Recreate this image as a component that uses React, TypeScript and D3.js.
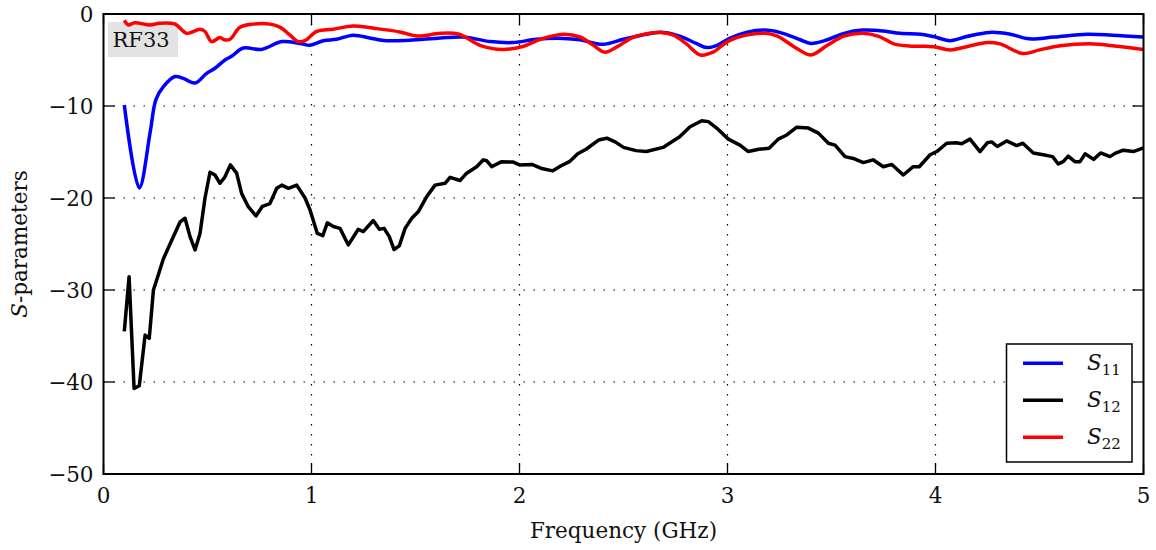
import React, { useEffect, useRef } from 'react';
import * as d3 from 'd3';

// [frequency GHz, dB]
const s11: [number, number][] = [
  [0.10, -9.9], [0.172, -18.9], [0.224, -12.9], [0.252, -9.3], [0.288, -7.9], [0.344, -6.8],
  [0.384, -7.0], [0.44, -7.5], [0.496, -6.45], [0.536, -5.9], [0.584, -5.0], [0.616, -4.6],
  [0.672, -3.7], [0.76, -3.85], [0.857, -3.0], [0.945, -3.2], [0.993, -3.4], [1.057, -2.9],
  [1.12, -2.75], [1.20, -2.3], [1.28, -2.6], [1.36, -2.9], [1.47, -2.85], [1.62, -2.6],
  [1.73, -2.5], [1.86, -3.0], [1.97, -3.1], [2.08, -2.75], [2.21, -2.65], [2.29, -2.8],
  [2.40, -3.3], [2.50, -2.75], [2.61, -2.2], [2.69, -2.0], [2.77, -2.4], [2.85, -3.2],
  [2.90, -3.65], [2.95, -3.4], [3.01, -2.65], [3.09, -2.0], [3.18, -1.75], [3.25, -2.0],
  [3.35, -2.8], [3.40, -3.2], [3.48, -2.8], [3.56, -2.1], [3.65, -1.75], [3.75, -1.85],
  [3.83, -2.1], [3.93, -2.2], [3.99, -2.45], [4.07, -2.9], [4.15, -2.45], [4.26, -2.0],
  [4.36, -2.2], [4.45, -2.7], [4.57, -2.5], [4.73, -2.2], [4.85, -2.3], [5.0, -2.5]
];

const s12: [number, number][] = [
  [0.10, -34.5], [0.123, -28.55], [0.147, -40.7], [0.172, -40.4], [0.20, -34.9], [0.22, -35.25],
  [0.24, -30.0], [0.263, -28.4], [0.288, -26.6], [0.328, -24.6], [0.368, -22.6], [0.392, -22.2],
  [0.416, -24.2], [0.44, -25.65], [0.464, -23.85], [0.488, -20.0], [0.512, -17.2], [0.536, -17.5],
  [0.56, -18.4], [0.584, -17.7], [0.61, -16.4], [0.64, -17.3], [0.664, -19.5], [0.696, -20.95],
  [0.733, -21.95], [0.764, -20.9], [0.80, -20.6], [0.833, -18.95], [0.857, -18.6], [0.889, -18.95],
  [0.929, -18.6], [0.969, -20.0], [0.993, -21.3], [1.028, -23.85], [1.054, -24.1], [1.076, -22.7],
  [1.105, -23.1], [1.137, -23.3], [1.177, -25.1], [1.225, -23.4], [1.249, -23.65], [1.297, -22.45],
  [1.326, -23.4], [1.349, -23.3], [1.374, -24.2], [1.397, -25.6], [1.422, -25.2], [1.45, -23.3],
  [1.482, -22.2], [1.513, -21.5], [1.554, -19.85], [1.594, -18.6], [1.642, -18.4], [1.666, -17.75],
  [1.714, -18.1], [1.746, -17.3], [1.794, -16.6], [1.826, -15.85], [1.842, -15.95], [1.866, -16.6],
  [1.914, -16.05], [1.97, -16.1], [2.0, -16.4], [2.06, -16.35], [2.107, -16.8], [2.16, -17.05],
  [2.20, -16.5], [2.24, -16.05], [2.28, -15.2], [2.32, -14.7], [2.38, -13.7], [2.42, -13.5],
  [2.46, -13.9], [2.50, -14.5], [2.56, -14.85], [2.61, -14.95], [2.69, -14.5], [2.77, -13.35],
  [2.82, -12.25], [2.876, -11.6], [2.908, -11.7], [2.948, -12.4], [3.004, -13.6], [3.06, -14.25],
  [3.10, -14.95], [3.15, -14.7], [3.20, -14.6], [3.244, -13.6], [3.285, -13.15], [3.333, -12.3],
  [3.389, -12.4], [3.437, -12.95], [3.485, -14.05], [3.517, -14.25], [3.565, -15.5], [3.605, -15.7],
  [3.653, -16.15], [3.70, -15.85], [3.749, -16.6], [3.79, -16.35], [3.845, -17.5], [3.893, -16.6],
  [3.922, -16.6], [3.974, -15.3], [4.006, -14.95], [4.054, -14.05], [4.10, -14.0], [4.126, -14.1],
  [4.166, -13.6], [4.214, -14.95], [4.249, -14.0], [4.27, -13.9], [4.297, -14.4], [4.342, -13.8],
  [4.39, -14.3], [4.42, -14.05], [4.47, -15.1], [4.518, -15.3], [4.563, -15.5], [4.59, -16.3],
  [4.614, -16.05], [4.638, -15.45], [4.67, -16.05], [4.695, -16.05], [4.719, -15.2], [4.76, -15.8],
  [4.794, -15.1], [4.839, -15.5], [4.863, -15.15], [4.903, -14.8], [4.951, -14.95], [5.0, -14.55]
];

const s22: [number, number][] = [
  [0.10, -0.7], [0.12, -1.2], [0.15, -0.95], [0.224, -1.2], [0.27, -1.0], [0.344, -1.1],
  [0.40, -2.1], [0.464, -1.65], [0.488, -1.9], [0.52, -3.0], [0.56, -2.55], [0.58, -2.8],
  [0.608, -2.75], [0.656, -1.45], [0.72, -1.1], [0.80, -1.1], [0.85, -1.45], [0.897, -2.3],
  [0.936, -3.0], [0.969, -2.9], [1.025, -1.9], [1.105, -1.65], [1.20, -1.3], [1.30, -1.55],
  [1.425, -1.95], [1.51, -2.4], [1.62, -2.1], [1.71, -2.2], [1.81, -3.4], [1.92, -3.85],
  [2.02, -3.5], [2.10, -2.75], [2.21, -2.2], [2.29, -2.5], [2.355, -3.4], [2.41, -4.15],
  [2.47, -3.55], [2.55, -2.5], [2.68, -2.0], [2.74, -2.3], [2.80, -3.2], [2.87, -4.45],
  [2.93, -4.15], [3.0, -3.0], [3.09, -2.3], [3.18, -2.1], [3.24, -2.4], [3.32, -3.55],
  [3.40, -4.45], [3.48, -3.4], [3.56, -2.4], [3.65, -2.1], [3.73, -2.45], [3.80, -3.25],
  [3.89, -3.5], [3.99, -3.55], [4.07, -3.9], [4.15, -3.55], [4.25, -3.1], [4.31, -3.25],
  [4.42, -4.3], [4.50, -3.9], [4.60, -3.45], [4.76, -3.25], [4.85, -3.45], [5.0, -3.85]
];

const xTicks = [0, 1, 2, 3, 4, 5];
const yTicks = [0, -10, -20, -30, -40, -50];
const seriesNames = ['11', '12', '22'];
const seriesColors = ['#0000ff', '#000000', '#ff0000'];

const W = 1156;
const H = 550;
const margin = { left: 103.5, right: 12.5, top: 14, bottom: 76 };
const FONT = '"DejaVu Serif", serif';
const FS = 21.5;

function App() {
  const ref = useRef<SVGSVGElement>(null);

  useEffect(() => {
    if (!ref.current) return;
    const svg = d3.select(ref.current);
    svg.selectAll('*').remove();

    const x = d3.scaleLinear().domain([0, 5]).range([margin.left, W - margin.right]);
    const y = d3.scaleLinear().domain([-50, 0]).range([H - margin.bottom, margin.top]);
    const [x0, x1] = x.range();
    const [y1, y0] = y.range();

    svg.append('defs').append('clipPath').attr('id', 'plotclip')
      .append('rect').attr('x', x0).attr('y', y0).attr('width', x1 - x0).attr('height', y1 - y0);

    // grid
    const grid = svg.append('g');
    grid.selectAll('line.gx').data(xTicks.slice(1, -1)).join('line')
      .attr('x1', d => x(d)).attr('x2', d => x(d)).attr('y1', y0).attr('y2', y1)
      .attr('stroke', '#000').attr('stroke-width', 1.2).attr('stroke-dasharray', '1.5,8.5');
    grid.selectAll('line.gy').data(yTicks.slice(1, -1)).join('line')
      .attr('class', 'gy')
      .attr('x1', x0).attr('x2', x1).attr('y1', d => y(d)).attr('y2', d => y(d))
      .attr('stroke', '#000').attr('stroke-width', 1.2).attr('stroke-dasharray', '1.5,8.5');

    // RF33 tag
    svg.append('rect').attr('x', 108).attr('y', 22).attr('width', 70).attr('height', 35)
      .attr('fill', '#e3e3e3');
    svg.append('text').attr('x', 112.5).attr('y', 47).attr('font-family', FONT)
      .attr('font-size', 21).attr('fill', '#111').text('RF33');

    // curves
    const smooth = d3.line<[number, number]>().x(d => x(d[0])).y(d => y(d[1])).curve(d3.curveCatmullRom.alpha(0.5));
    const jagged = d3.line<[number, number]>().x(d => x(d[0])).y(d => y(d[1]));
    const lines = svg.append('g').attr('clip-path', 'url(#plotclip)');
    lines.append('path').datum(s12).attr('d', jagged).attr('fill', 'none')
      .attr('stroke', seriesColors[1]).attr('stroke-width', 3.5).attr('stroke-linejoin', 'round');
    lines.append('path').datum(s11).attr('d', smooth).attr('fill', 'none')
      .attr('stroke', seriesColors[0]).attr('stroke-width', 3.5).attr('stroke-linejoin', 'round');
    lines.append('path').datum(s22).attr('d', smooth).attr('fill', 'none')
      .attr('stroke', seriesColors[2]).attr('stroke-width', 3.5).attr('stroke-linejoin', 'round');

    // inward ticks on all sides
    const tickLen = 11;
    const ticks = svg.append('g').attr('stroke', '#000').attr('stroke-width', 1.3);
    xTicks.forEach(t => {
      ticks.append('line').attr('x1', x(t)).attr('x2', x(t)).attr('y1', y1).attr('y2', y1 - tickLen);
      ticks.append('line').attr('x1', x(t)).attr('x2', x(t)).attr('y1', y0).attr('y2', y0 + tickLen);
    });
    yTicks.forEach(t => {
      ticks.append('line').attr('x1', x0).attr('x2', x0 + tickLen).attr('y1', y(t)).attr('y2', y(t));
      ticks.append('line').attr('x1', x1).attr('x2', x1 - tickLen).attr('y1', y(t)).attr('y2', y(t));
    });

    // frame
    svg.append('rect').attr('x', x0).attr('y', y0).attr('width', x1 - x0).attr('height', y1 - y0)
      .attr('fill', 'none').attr('stroke', '#000').attr('stroke-width', 2);

    // tick labels
    svg.append('g').selectAll('text').data(xTicks).join('text')
      .attr('x', d => x(d)).attr('y', y1 + 29).attr('text-anchor', 'middle')
      .attr('font-family', FONT).attr('font-size', FS).attr('fill', '#111')
      .text(d => String(d));
    svg.append('g').selectAll('text').data(yTicks).join('text')
      .attr('x', x0 - 10).attr('y', d => y(d) + 7.8).attr('text-anchor', 'end')
      .attr('font-family', FONT).attr('font-size', FS).attr('fill', '#111')
      .text(d => (d < 0 ? '\u2212' + Math.abs(d) : String(d)));

    // axis titles
    svg.append('text').attr('x', (x0 + x1) / 2).attr('y', 538).attr('text-anchor', 'middle')
      .attr('font-family', FONT).attr('font-size', FS).attr('fill', '#111')
      .text('Frequency (GHz)');
    const yl = svg.append('text').attr('transform', `translate(27,${(y0 + y1) / 2}) rotate(-90)`)
      .attr('text-anchor', 'middle').attr('font-family', FONT).attr('font-size', FS).attr('fill', '#111');
    yl.append('tspan').attr('font-style', 'italic').text('S');
    yl.append('tspan').text('-parameters');

    // legend
    const lg = svg.append('g');
    lg.append('rect').attr('x', 1006.5).attr('y', 344).attr('width', 125.5).attr('height', 118)
      .attr('fill', '#fff').attr('stroke', '#000').attr('stroke-width', 1.5);
    seriesNames.forEach((n, i) => {
      const ly = 363.3 + i * 37;
      lg.append('line').attr('x1', 1023).attr('x2', 1063).attr('y1', ly).attr('y2', ly)
        .attr('stroke', seriesColors[i]).attr('stroke-width', 3.5);
      const t = lg.append('text').attr('x', 1087).attr('y', ly + 7)
        .attr('font-family', FONT).attr('font-size', 21.5).attr('fill', '#111');
      t.append('tspan').attr('font-style', 'italic').text('S');
      t.append('tspan').attr('font-size', 15).attr('dy', 5).text(n);
    });
  });

  return (
    <svg ref={ref} width={W} height={H}
      style={{ position: 'absolute', left: 0, top: 0, background: '#fff' }} />
  );
}

export default App;
